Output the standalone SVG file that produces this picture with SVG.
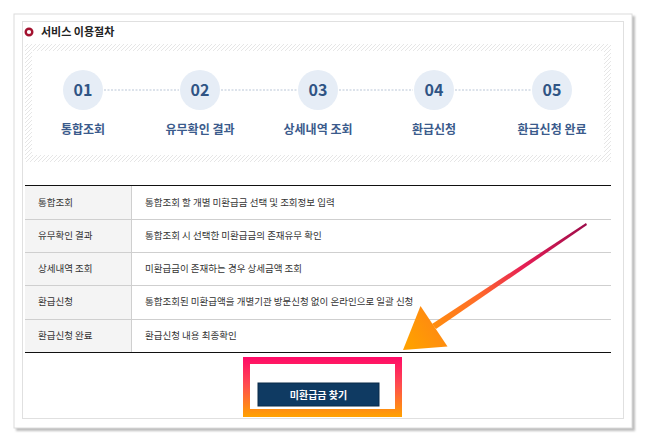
<svg xmlns="http://www.w3.org/2000/svg" width="647" height="442" viewBox="0 0 647 442">
<defs>
<style>
.kr{font-family:"Noto Sans CJK KR","Noto Sans",sans-serif}
.num{font-size:16px;font-weight:bold;fill:#2f5484;text-anchor:middle}
.lbl{font-size:12px;font-weight:bold;fill:#3b5b8c;text-anchor:middle}
.td{font-size:9.5px;fill:#333}
.step{fill:#e6edf6}
.dot{stroke:#b9c5d6;stroke-width:1;stroke-dasharray:2 1.5}
.sep{stroke:#cfcfcf;stroke-width:1}
</style>
<pattern id="hatch" patternUnits="userSpaceOnUse" width="4" height="4">
<path d="M-1,5 L5,-1" stroke="#e3e3e3" stroke-width="0.9"/>
</pattern>
<linearGradient id="frameG" x1="0" y1="0" x2="0" y2="1">
<stop offset="0" stop-color="#ff0a68"/>
<stop offset="0.45" stop-color="#ff4a50"/>
<stop offset="1" stop-color="#ffa200"/>
</linearGradient>
<linearGradient id="arrowG" gradientUnits="userSpaceOnUse" x1="585" y1="224" x2="410" y2="345">
<stop offset="0" stop-color="#9e0c4a"/>
<stop offset="0.35" stop-color="#e61e55"/>
<stop offset="0.6" stop-color="#ff6a2a"/>
<stop offset="1" stop-color="#ffa000"/>
</linearGradient>
<filter id="sh" x="-5%" y="-5%" width="110%" height="110%">
<feGaussianBlur stdDeviation="1.2"/>
</filter>
</defs>

<!-- outer frame -->
<rect x="16" y="16" width="619" height="415" fill="#bdbdbd" filter="url(#sh)"/>
<rect x="14" y="14" width="618" height="414" fill="#ffffff" stroke="#dcdcdc" stroke-width="1"/>
<rect x="22.5" y="21.5" width="601" height="397" fill="#ffffff" stroke="#e0e0e0" stroke-width="1"/>

<!-- title -->
<g id="title">
<circle cx="29" cy="32" r="3.3" fill="#fff" stroke="#a3122f" stroke-width="2.4"/>
<text class="kr" x="41" y="36" font-size="11" font-weight="bold" fill="#222">서비스 이용절차</text>
</g>

<!-- hatched band -->
<rect x="25" y="44" width="586" height="118" fill="url(#hatch)"/>
<rect x="32" y="51" width="572" height="104" fill="#ffffff"/>

<g id="connectors">
<line class="dot" x1="104" y1="90" x2="179" y2="90"/>
<line class="dot" x1="221" y1="90" x2="297" y2="90"/>
<line class="dot" x1="339" y1="90" x2="413" y2="90"/>
<line class="dot" x1="455" y1="90" x2="531" y2="90"/>
</g>

<g id="step01" class="kr"><circle class="step" cx="83" cy="90" r="20"/><text class="num" x="83" y="96">01</text><text class="lbl" x="83" y="134">통합조회</text></g>
<g id="step02" class="kr"><circle class="step" cx="200" cy="90" r="20"/><text class="num" x="200" y="96">02</text><text class="lbl" x="200" y="134">유무확인 결과</text></g>
<g id="step03" class="kr"><circle class="step" cx="318" cy="90" r="20"/><text class="num" x="318" y="96">03</text><text class="lbl" x="318" y="134">상세내역 조회</text></g>
<g id="step04" class="kr"><circle class="step" cx="434" cy="90" r="20"/><text class="num" x="434" y="96">04</text><text class="lbl" x="434" y="134">환급신청</text></g>
<g id="step05" class="kr"><circle class="step" cx="552" cy="90" r="20"/><text class="num" x="552" y="96">05</text><text class="lbl" x="552" y="134">환급신청 완료</text></g>

<!-- table -->
<g id="table" class="kr">
<rect x="25" y="186" width="106" height="166" fill="#f4f4f4"/>
<line class="sep" x1="131.5" y1="186" x2="131.5" y2="352"/>
<line class="sep" x1="25" y1="219.5" x2="611" y2="219.5"/>
<line class="sep" x1="25" y1="252.5" x2="611" y2="252.5"/>
<line class="sep" x1="25" y1="285.5" x2="611" y2="285.5"/>
<line class="sep" x1="25" y1="319.5" x2="611" y2="319.5"/>
<line x1="25" y1="185.5" x2="611" y2="185.5" stroke="#111" stroke-width="1"/>
<line x1="25" y1="352.5" x2="611" y2="352.5" stroke="#111" stroke-width="1"/>
<text class="td" x="38" y="206">통합조회</text>
<text class="td" x="145" y="206">통합조회 할 개별 미환급금 선택 및 조회정보 입력</text>
<text class="td" x="38" y="239">유무확인 결과</text>
<text class="td" x="145" y="239">통합조회 시 선택한 미환급금의 존재유무 확인</text>
<text class="td" x="38" y="272">상세내역 조회</text>
<text class="td" x="145" y="272">미환급금이 존재하는 경우 상세금액 조회</text>
<text class="td" x="38" y="305">환급신청</text>
<text class="td" x="145" y="305">통합조회된 미환급액을 개별기관 방문신청 없이 온라인으로 일괄 신청</text>
<text class="td" x="38" y="339">환급신청 완료</text>
<text class="td" x="145" y="339">환급신청 내용 최종확인</text>
</g>

<!-- highlight frame + button -->
<g id="button">
<rect x="243" y="357" width="159" height="60" fill="url(#frameG)"/>
<rect x="250" y="364" width="145" height="45" fill="#ffffff"/>
<rect x="258" y="383" width="121" height="23" fill="#0f3a62" stroke="#0a2a48" stroke-width="1"/>
<text class="kr" x="318.5" y="398.5" font-size="10" font-weight="bold" fill="#ffffff" text-anchor="middle">미환급금 찾기</text>
</g>

<!-- arrow -->
<g id="arrow">
<polygon points="586,223 587,225 436,329 432,324" fill="url(#arrowG)"/>
<polygon points="420.5,306 447.5,346.5 403,350" fill="url(#arrowG)"/>
</g>
</svg>
